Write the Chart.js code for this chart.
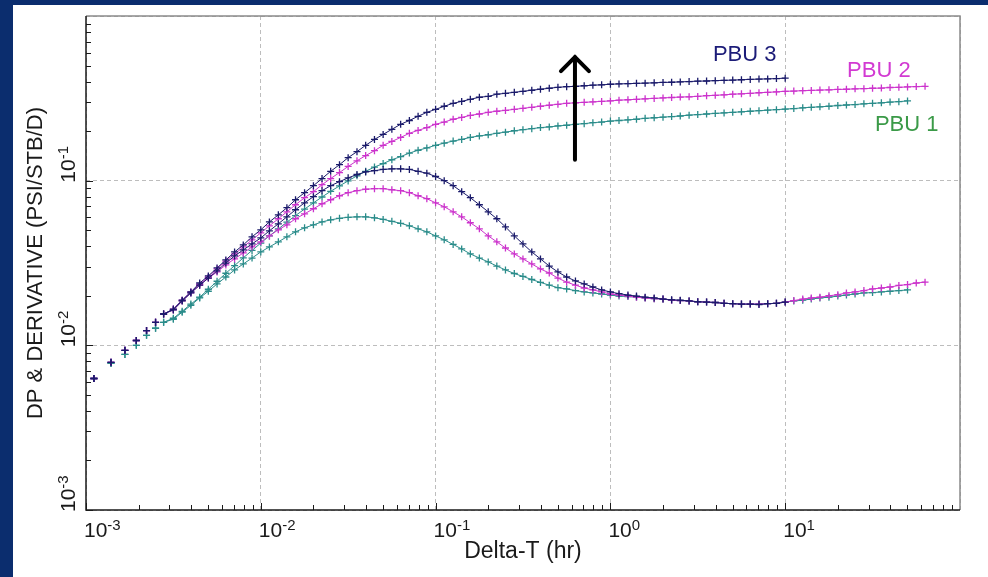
<!DOCTYPE html>
<html>
<head>
<meta charset="utf-8">
<script src="https://cdn.jsdelivr.net/npm/chart.js@4.4.1/dist/chart.umd.min.js"></script>
<style>
  html, body { margin: 0; padding: 0; background: #0b2d6e; width: 988px; height: 577px; overflow: hidden; }
  #panel { position: absolute; left: 13px; top: 5px; width: 975px; height: 572px; background: #ffffff; }
  canvas { display: block; }
</style>
</head>
<body>
<div id="panel"><canvas id="c" width="975" height="572"></canvas></div>
<script>
// ---- Data (Delta-T in hours; DP and derivative in psi/STB/D) ----
const deltaT = [
  0.00111, 0.00139, 0.00167, 0.00194, 0.00222, 0.00250, 0.00278,
  0.00316, 0.00355, 0.00398, 0.00447, 0.00501, 0.00562, 0.00631, 0.00708, 0.00794, 0.00891,
  0.0100, 0.0112, 0.0126, 0.0141, 0.0158, 0.0178, 0.0200, 0.0224, 0.0251, 0.0282,
  0.0316, 0.0355, 0.0398, 0.0447, 0.0501, 0.0562, 0.0631, 0.0708, 0.0794, 0.0891,
  0.100, 0.112, 0.126, 0.141, 0.158, 0.178, 0.200, 0.224, 0.251, 0.282,
  0.316, 0.355, 0.398, 0.447, 0.501, 0.562, 0.631, 0.708, 0.794, 0.891,
  1.00, 1.12, 1.26, 1.41, 1.58, 1.78, 2.00, 2.24, 2.51, 2.82,
  3.16, 3.55, 3.98, 4.47, 5.01, 5.62, 6.31, 7.08, 7.94, 8.91,
  10.0, 11.2, 12.6, 14.1, 15.8, 17.8, 20.0, 22.4, 25.1, 28.2,
  31.6, 35.5, 39.8, 44.7, 50.1, 56.2, 63.1
];

const pbu3Dp = [
  0.00629, 0.00788, 0.00932, 0.0107, 0.0123, 0.0138, 0.0155,
  0.0166, 0.0188, 0.0211, 0.0239, 0.0264, 0.0295, 0.0330, 0.0369, 0.0407, 0.0456,
  0.0503, 0.0562, 0.0620, 0.0685, 0.0766, 0.0845, 0.0932, 0.103, 0.114, 0.125,
  0.138, 0.150, 0.164, 0.178, 0.191, 0.205, 0.220, 0.232, 0.246, 0.260,
  0.271, 0.283, 0.295, 0.303, 0.312, 0.321, 0.325, 0.335, 0.339, 0.344,
  0.349, 0.354, 0.359, 0.364, 0.369, 0.372, 0.374, 0.377, 0.380, 0.382,
  0.385, 0.387, 0.388, 0.390, 0.391, 0.393, 0.395, 0.396, 0.398, 0.400,
  0.402, 0.403, 0.405, 0.407, 0.408, 0.410, 0.412, 0.414, 0.415, 0.417,
  0.419
];
const pbu3Deriv = [
  0.00629, 0.00788, 0.00932, 0.0107, 0.0123, 0.0138, 0.0155,
  0.0164, 0.0186, 0.0208, 0.0232, 0.0256, 0.0283, 0.0316, 0.0349, 0.0380, 0.0413,
  0.0449, 0.0496, 0.0547, 0.0603, 0.0666, 0.0734, 0.0799, 0.0869, 0.0932, 0.0986,
  0.104, 0.109, 0.113, 0.115, 0.117, 0.118, 0.118, 0.117, 0.114, 0.111,
  0.106, 0.100, 0.0932, 0.0857, 0.0788, 0.0714, 0.0647, 0.0587, 0.0524, 0.0462,
  0.0413, 0.0369, 0.0335, 0.0303, 0.0279, 0.0260, 0.0246, 0.0236, 0.0226, 0.0217,
  0.0211, 0.0206, 0.0202, 0.0199, 0.0196, 0.0194, 0.0191, 0.0189, 0.0188, 0.0186,
  0.0184, 0.0183, 0.0182, 0.0180, 0.0179, 0.0178, 0.0178, 0.0177, 0.0179, 0.0180,
  0.0183
];
const pbu2Dp = [
  0.00629, 0.00788, 0.00932, 0.0107, 0.0123, 0.0138, 0.0155,
  0.0166, 0.0188, 0.0211, 0.0235, 0.0260, 0.0291, 0.0325, 0.0359, 0.0396, 0.0437,
  0.0482, 0.0532, 0.0587, 0.0647, 0.0714, 0.0788, 0.0857, 0.0945, 0.103, 0.112,
  0.122, 0.132, 0.142, 0.152, 0.164, 0.173, 0.183, 0.194, 0.202, 0.210,
  0.220, 0.227, 0.236, 0.242, 0.249, 0.254, 0.260, 0.264, 0.267, 0.271,
  0.275, 0.279, 0.283, 0.287, 0.291, 0.295, 0.297, 0.299, 0.301, 0.303,
  0.305, 0.308, 0.310, 0.312, 0.314, 0.316, 0.318, 0.320, 0.322, 0.323,
  0.325, 0.328, 0.330, 0.332, 0.335, 0.337, 0.339, 0.342, 0.344, 0.346,
  0.349, 0.350, 0.352, 0.353, 0.355, 0.356, 0.358, 0.359, 0.361, 0.362,
  0.364, 0.365, 0.368, 0.369, 0.371, 0.373, 0.374
];
const pbu2Deriv = [
  0.00629, 0.00788, 0.00932, 0.0107, 0.0123, 0.0138, 0.0155,
  0.0164, 0.0186, 0.0208, 0.0232, 0.0256, 0.0279, 0.0308, 0.0335, 0.0364, 0.0396,
  0.0425, 0.0462, 0.0503, 0.0539, 0.0587, 0.0629, 0.0675, 0.0724, 0.0766, 0.0810,
  0.0845, 0.0869, 0.0887, 0.0894, 0.0894, 0.0881, 0.0869, 0.0845, 0.0810, 0.0777,
  0.0734, 0.0694, 0.0647, 0.0603, 0.0555, 0.0510, 0.0462, 0.0425, 0.0390, 0.0359,
  0.0335, 0.0312, 0.0291, 0.0275, 0.0256, 0.0242, 0.0232, 0.0223, 0.0217, 0.0211,
  0.0205, 0.0202, 0.0199, 0.0196, 0.0194, 0.0192, 0.0191, 0.0188, 0.0187, 0.0186,
  0.0184, 0.0183, 0.0182, 0.0180, 0.0179, 0.0178, 0.0178, 0.0178, 0.0179, 0.0180,
  0.0183, 0.0187, 0.0191, 0.0194, 0.0196, 0.0200, 0.0203, 0.0208, 0.0211, 0.0215,
  0.0220, 0.0223, 0.0226, 0.0231, 0.0234, 0.0239, 0.0242
];
const pbu1Dp = [
  0.00629, 0.00777, 0.00881, 0.0100, 0.0115, 0.0127, 0.0138,
  0.0146, 0.0161, 0.0178, 0.0196, 0.0219, 0.0245, 0.0274, 0.0305, 0.0340, 0.0377,
  0.0418, 0.0462, 0.0509, 0.0560, 0.0614, 0.0672, 0.0733, 0.0796, 0.0862, 0.0929,
  0.0997, 0.107, 0.114, 0.121, 0.127, 0.134, 0.140, 0.147, 0.153, 0.158,
  0.164, 0.169, 0.174, 0.178, 0.183, 0.187, 0.190, 0.194, 0.197, 0.201,
  0.204, 0.207, 0.210, 0.212, 0.215, 0.217, 0.220, 0.222, 0.225, 0.227,
  0.230, 0.232, 0.234, 0.236, 0.239, 0.241, 0.243, 0.245, 0.247, 0.250,
  0.252, 0.254, 0.256, 0.258, 0.260, 0.262, 0.264, 0.266, 0.268, 0.270,
  0.272, 0.274, 0.277, 0.279, 0.281, 0.283, 0.286, 0.288, 0.290, 0.293,
  0.295, 0.297, 0.300, 0.302, 0.305
];
const pbu1Deriv = [
  0.00629, 0.00777, 0.00881, 0.0100, 0.0115, 0.0127, 0.0138,
  0.0144, 0.0159, 0.0175, 0.0194, 0.0213, 0.0236, 0.0260, 0.0287, 0.0312, 0.0339,
  0.0369, 0.0396, 0.0425, 0.0456, 0.0489, 0.0517, 0.0539, 0.0562, 0.0578, 0.0591,
  0.0599, 0.0603, 0.0603, 0.0595, 0.0582, 0.0566, 0.0551, 0.0532, 0.0510, 0.0489,
  0.0462, 0.0437, 0.0410, 0.0385, 0.0359, 0.0339, 0.0321, 0.0303, 0.0287, 0.0273,
  0.0262, 0.0251, 0.0241, 0.0232, 0.0224, 0.0220, 0.0215, 0.0211, 0.0208, 0.0205,
  0.0202, 0.0199, 0.0198, 0.0196, 0.0194, 0.0192, 0.0191, 0.0188, 0.0187, 0.0186,
  0.0184, 0.0183, 0.0182, 0.0180, 0.0179, 0.0178, 0.0178, 0.0178, 0.0179, 0.0180,
  0.0183, 0.0186, 0.0188, 0.0191, 0.0194, 0.0196, 0.0199, 0.0202, 0.0205, 0.0208,
  0.0209, 0.0211, 0.0213, 0.0215, 0.0217
];

// tick labels (exponents of 10)
const xTickExps = [-3, -2, -1, 0, 1];
const yTickExps = [-3, -2, -1];
const xTitle = 'Delta-T (hr)';
const yTitle = 'DP & DERIVATIVE (PSI/STB/D)';
const seriesLabels = [
  { text: 'PBU 3', t: 3.86, v: 0.535, color: '#1c1c78' },
  { text: 'PBU 2', t: 22.6, v: 0.425, color: '#d23ad2' },
  { text: 'PBU 1', t: 32.6, v: 0.199, color: '#3b9a48' }
];
const arrowAt = { t: 0.627, from: 0.134, to: 0.570 };

// ---- Styling ----
const FONT = '"Liberation Sans", Arial, sans-serif';
const NAVY = '#1a1a6a', MAGENTA = '#cc33cc', TEAL = '#2a8c8a';

function pts(vals) { return vals.map((v, i) => ({ x: deltaT[i], y: v })); }

function ds(label, vals, color) {
  return {
    label, data: pts(vals),
    showLine: true, borderColor: color, backgroundColor: color,
    borderWidth: 1, pointStyle: 'cross', pointRadius: 3.5, pointBorderWidth: 1.3,
    pointBorderColor: color,
    segment: { borderColor: c => (c.p1.parsed.x < 0.003 ? 'rgba(0,0,0,0)' : undefined) }
  };
}

function isDecade(v) { const l = Math.log10(v); return Math.abs(l - Math.round(l)) < 1e-6; }

function drawPow(ctx, x, y, exp, baseSize, expSize) {
  ctx.font = baseSize + 'px ' + FONT;
  ctx.textAlign = 'left'; ctx.textBaseline = 'alphabetic';
  ctx.fillText('10', x, y);
  const w = ctx.measureText('10').width;
  ctx.font = expSize + 'px ' + FONT;
  ctx.fillText(String(exp), x + w, y - 7);
}

const overlay = {
  id: 'overlay',
  afterDatasetsDraw(chart) {
    const ctx = chart.ctx;
    const { left, right, top, bottom } = chart.chartArea;
    const xs = chart.scales.x, ys = chart.scales.y;
    ctx.save();
    // frame
    ctx.lineWidth = 1.5;
    ctx.strokeStyle = '#8a8a8a';
    ctx.beginPath(); ctx.moveTo(left, top); ctx.lineTo(right, top); ctx.lineTo(right, bottom); ctx.stroke();
    ctx.strokeStyle = '#1a1a1a';
    ctx.beginPath(); ctx.moveTo(left, top); ctx.lineTo(left, bottom); ctx.lineTo(right, bottom); ctx.stroke();
    // inward ticks
    ctx.lineWidth = 1;
    ctx.beginPath();
    for (let e = -3; e <= 1; e++) {
      for (let m = 1; m <= 9; m++) {
        const v = m * Math.pow(10, e);
        const px = Math.round(xs.getPixelForValue(v)) + 0.5;
        if (px < left - 1 || px > right + 1) continue;
        const len = m === 1 ? 7 : 5;
        ctx.moveTo(px, bottom); ctx.lineTo(px, bottom - len);
      }
    }
    for (let e = -3; e <= -1; e++) {
      for (let m = 1; m <= 9; m++) {
        const v = m * Math.pow(10, e);
        const py = Math.round(ys.getPixelForValue(v)) + 0.5;
        if (py < top - 1 || py > bottom + 1) continue;
        const len = m === 1 ? 7 : 5;
        ctx.moveTo(left, py); ctx.lineTo(left + len, py);
      }
    }
    ctx.stroke();

    // arrow
    const ax = xs.getPixelForValue(arrowAt.t);
    const ay0 = ys.getPixelForValue(arrowAt.from);
    const ay1 = ys.getPixelForValue(arrowAt.to);
    ctx.strokeStyle = '#000'; ctx.lineWidth = 4; ctx.lineCap = 'round'; ctx.lineJoin = 'miter';
    ctx.beginPath(); ctx.moveTo(ax, ay0); ctx.lineTo(ax, ay1 + 1); ctx.stroke();
    ctx.beginPath(); ctx.moveTo(ax - 14, ay1 + 15); ctx.lineTo(ax, ay1 + 1); ctx.lineTo(ax + 14, ay1 + 15); ctx.stroke();

    // series labels
    ctx.font = '22px ' + FONT; ctx.textAlign = 'left'; ctx.textBaseline = 'alphabetic';
    seriesLabels.forEach(s => {
      ctx.fillStyle = s.color;
      ctx.fillText(s.text, xs.getPixelForValue(s.t), ys.getPixelForValue(s.v));
    });

    // tick labels
    ctx.fillStyle = '#1a1a1a';
    xTickExps.forEach(e => {
      const px = xs.getPixelForValue(Math.pow(10, e));
      drawPow(ctx, px - 2, bottom + 27, e, 21, 15);
    });
    yTickExps.forEach(e => {
      const py = ys.getPixelForValue(Math.pow(10, e));
      ctx.save();
      ctx.translate(left - 11, py + 2);
      ctx.rotate(-Math.PI / 2);
      drawPow(ctx, 0, 0, e, 21, 15);
      ctx.restore();
    });

    // axis titles
    ctx.fillStyle = '#1a1a1a';
    ctx.font = '23px ' + FONT; ctx.textAlign = 'center'; ctx.textBaseline = 'alphabetic';
    ctx.fillText(xTitle, (left + right) / 2, bottom + 48);
    ctx.save();
    ctx.translate(left - 44, (top + bottom) / 2);
    ctx.rotate(-Math.PI / 2);
    ctx.font = '22px ' + FONT;
    ctx.fillText(yTitle, 0, 0);
    ctx.restore();
    ctx.restore();
  }
};

const gridColor = c => (c.tick && isDecade(c.tick.value) ? '#bdbdbd' : 'rgba(0,0,0,0)');

new Chart(document.getElementById('c'), {
  type: 'scatter',
  data: {
    datasets: [
      ds('PBU 3 DP', pbu3Dp, NAVY),
      ds('PBU 3 Derivative', pbu3Deriv, NAVY),
      ds('PBU 2 DP', pbu2Dp, MAGENTA),
      ds('PBU 2 Derivative', pbu2Deriv, MAGENTA),
      ds('PBU 1 DP', pbu1Dp, TEAL),
      ds('PBU 1 Derivative', pbu1Deriv, TEAL)
    ]
  },
  options: {
    responsive: false, animation: false, devicePixelRatio: 1,
    layout: { padding: { left: 73, top: 11, right: 28, bottom: 67 } },
    plugins: { legend: { display: false }, tooltip: { enabled: false } },
    scales: {
      x: {
        type: 'logarithmic', min: 0.001, max: 100,
        ticks: { display: false },
        grid: { drawTicks: false, color: gridColor, lineWidth: 1 },
        border: { display: false, dash: [4, 3] }
      },
      y: {
        type: 'logarithmic', min: 0.001, max: 1,
        ticks: { display: false },
        grid: { drawTicks: false, color: gridColor, lineWidth: 1 },
        border: { display: false, dash: [4, 3] }
      }
    }
  },
  plugins: [overlay]
});
</script>
</body>
</html>
